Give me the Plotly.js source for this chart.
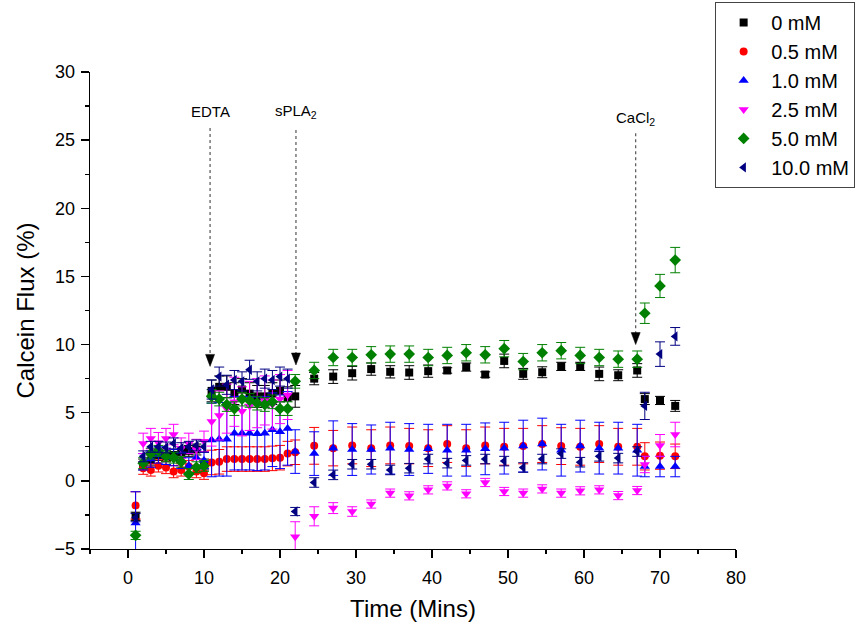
<!DOCTYPE html>
<html>
<head>
<meta charset="utf-8">
<script src="https://cdn.plot.ly/plotly-3.0.1.min.js"></script>
<style>html,body{margin:0;padding:0;background:#fff;}#chart{width:856px;height:630px;}</style>
</head>
<body>
<div id="chart"></div>
<script>
// Time points (minutes)
const time = [1,2,3,4,5,6,7,8,9,10,11,12,13,14,15,16,17,18,19,20,21,22,24.5,27,29.5,32,34.5,37,39.5,42,44.5,47,49.5,52,54.5,57,59.5,62,64.5,67,68,70,72];

const seriesNames = ["0 mM","0.5 mM","1.0 mM","2.5 mM","5.0 mM","10.0 mM"];

// Calcein flux (%) per concentration
const flux0 = [-2.6, 1.2,1.5,1.9,1.8,1.9,2.1,2.2,2.3,1.2,
  6.6,6.9,6.9,6.4,6.7,6.4,6.2,6.2,6.4,6.6,6.1,6.2,
  7.5,7.65,7.9,8.2,8.0,7.95,8.05,8.1,8.35,7.8,8.8,7.85,7.97,8.4,8.4,7.85,7.75,8.1,
  6.0,5.9,5.5];
const err0 = [0.3, 0.4,0.4,0.4,0.4,0.4,0.4,0.4,0.4,0.4,
  0.8,0.8,0.8,0.8,0.8,0.8,0.8,0.8,0.8,0.8,0.8,0.8,
  0.45,0.5,0.5,0.45,0.45,0.5,0.45,0.2,0.3,0.2,0.5,0.4,0.4,0.3,0.3,0.5,0.4,0.5,
  0.4,0.3,0.4];

const flux05 = [-1.8, 0.93,0.8,1.1,0.98,0.68,0.8,1.05,0.68,0.56,
  1.35,1.4,1.6,1.6,1.6,1.6,1.6,1.6,1.65,1.7,2.0,2.1,
  2.57,2.4,2.6,2.4,2.6,2.55,2.4,2.7,2.4,2.6,2.5,2.55,2.7,2.55,2.5,2.7,2.5,2.5,
  1.8,1.85,1.8];
const err05 = [1.0, 0.45,0.45,0.45,0.45,0.45,0.45,0.45,0.45,0.45,
  0.9,0.9,0.9,0.9,0.9,0.9,0.9,0.9,0.9,0.9,0.9,0.9,
  1.35,1.3,1.35,1.35,1.35,1.3,1.35,1.35,1.35,1.35,1.35,1.3,1.35,1.35,1.35,1.35,1.35,1.35,
  1.0,1.0,0.9];

const flux10 = [-3.1, 1.4,1.6,1.9,1.8,1.7,1.5,1.1,1.7,1.5,
  3.0,3.05,3.05,3.5,3.5,3.5,3.45,3.5,3.75,3.6,3.85,2.15,
  2.0,2.4,2.3,2.3,2.4,2.3,2.35,2.25,2.25,2.35,2.4,2.55,2.7,2.25,2.55,2.4,2.4,2.25,
  1.05,1.05,1.05];
const err10 = [2.3, 0.6,0.6,0.6,0.6,0.6,0.6,0.6,0.6,0.6,
  2.7,2.7,2.7,2.7,2.7,2.7,2.7,2.7,2.7,2.7,2.7,1.6,
  1.6,2.0,1.9,1.8,1.9,1.9,1.8,1.9,1.9,1.9,1.9,1.9,1.9,1.9,1.9,1.9,1.9,1.9,
  0.75,0.75,0.75];

const flux25 = [null, 2.75,3.1,2.8,3.1,3.4,2.4,2.75,2.3,2.9,
  4.35,4.8,5.3,5.8,5.1,5.5,5.7,5.9,5.6,6.0,6.3,-4.1,
  -2.6,-2.0,-2.25,-1.7,-0.9,-1.1,-0.66,-0.37,-0.95,-0.12,-0.78,-0.9,-0.59,-0.9,-0.73,-0.66,-1.08,-0.71,
  1.2,2.6,3.4];
const err25 = [0, 0.75,0.75,0.75,0.75,0.75,0.75,0.75,0.75,0.75,
  1.8,1.8,1.8,1.8,1.8,1.8,1.8,1.8,1.8,1.8,1.8,1.1,
  0.7,0.4,0.35,0.3,0.3,0.3,0.3,0.3,0.3,0.3,0.3,0.3,0.3,0.3,0.3,0.3,0.3,0.3,
  0.6,0.8,0.9];

const flux50 = [-4.0, 1.3,2.0,2.2,1.8,1.7,1.4,0.5,1.0,1.1,
  6.2,6.0,5.6,5.3,6.0,5.9,5.7,5.6,5.8,5.3,5.3,7.3,
  8.1,9.05,9.05,9.25,9.3,9.3,9.05,9.2,9.4,9.25,9.7,8.75,9.4,9.55,9.2,9.05,8.93,8.93,
  12.3,14.3,16.2];
const err50 = [0.3, 0.4,0.4,0.4,0.4,0.4,0.4,0.4,0.4,0.4,
  0.5,0.5,0.5,0.5,0.5,0.5,0.5,0.5,0.5,0.5,0.5,0.5,
  0.6,0.6,0.6,0.6,0.6,0.6,0.6,0.6,0.6,0.6,0.6,0.6,0.6,0.6,0.6,0.6,0.6,0.6,
  0.75,0.85,0.93];

const flux100 = [-2.7, 1.8,2.5,2.5,2.45,2.75,2.4,2.5,2.6,2.5,
  6.7,7.65,7.05,7.4,7.3,8.15,7.3,7.5,7.4,7.65,7.5,-2.25,
  -0.12,0.44,1.22,1.22,0.8,0.93,1.6,1.3,1.5,1.6,1.45,0.98,1.6,2.0,1.37,1.8,1.67,2.15,
  5.5,9.3,10.6];
const err100 = [0.3, 0.4,0.4,0.4,0.4,0.4,0.4,0.4,0.4,0.4,
  0.7,0.7,0.7,0.7,0.7,0.7,0.7,0.7,0.7,0.7,0.7,0.3,
  0.35,0.35,0.35,0.35,0.35,0.35,0.35,0.35,0.35,0.35,0.35,0.35,0.35,0.35,0.35,0.35,0.35,0.35,
  1.0,0.9,0.65];

const fluxes = [flux0, flux05, flux10, flux25, flux50, flux100];
const errors = [err0, err05, err10, err25, err50, err100];
const colors = ["#000000","#ff0000","#0000ff","#ff00ff","#008000","#000080"];
const symbols = ["square","circle","triangle-up","triangle-down","diamond","triangle-left"];
const sizes = [8,8,9,9,9,9];

// Event markers
const eventLabels = ["EDTA","sPLA<sub>2</sub>","CaCl<sub>2</sub>"];
const eventTimes = [10.8, 22.1, 66.8];
const eventTips = [8.4, 8.5, 10.0];
const eventTops = [25.9, 25.75, 25.5];
const eventTextY = [27.1, 27.1, 26.6];

const font = "Liberation Sans, Arial, Helvetica, sans-serif";

const traces = seriesNames.map((name, i) => ({
  type: "scatter",
  mode: "markers",
  name: name,
  x: time,
  y: fluxes[i],
  marker: {symbol: symbols[i], size: sizes[i], color: colors[i]},
  error_y: {type: "data", array: errors[i], visible: true, color: colors[i], thickness: 1, width: 5},
  cliponaxis: true
}));

const shapes = [];
eventTimes.forEach((t, i) => {
  shapes.push({
    type: "line", xref: "x", yref: "y",
    x0: t, x1: t, y0: eventTops[i], y1: eventTips[i] + 0.7,
    line: {color: "#555", width: 1.2, dash: "dot"}
  });
  shapes.push({
    type: "path", xref: "x", yref: "y",
    xsizemode: "pixel", ysizemode: "pixel",
    xanchor: t, yanchor: eventTips[i],
    path: "M -4.5 12 L 4.5 12 L 0 0 Z",
    fillcolor: "#000", line: {color: "#000", width: 0.5}
  });
});

const annotations = eventTimes.map((t, i) => ({
  x: t, y: eventTextY[i], xref: "x", yref: "y",
  text: eventLabels[i], showarrow: false,
  font: {family: font, size: 15, color: "#000"}
}));

const layout = {
  width: 856, height: 630,
  margin: {l: 90, r: 120, t: 72, b: 81, autoexpand: false},
  paper_bgcolor: "#fff", plot_bgcolor: "#fff",
  font: {family: font, size: 18, color: "#000"},
  showlegend: true,
  legend: {
    xref: "container", yref: "container",
    x: 0.999, xanchor: "right", y: 0.997, yanchor: "top",
    bordercolor: "#444", borderwidth: 1, bgcolor: "#fff",
    font: {family: font, size: 20, color: "#000"},
    itemwidth: 45, tracegroupgap: 0
  },
  xaxis: {
    range: [-5, 80], tick0: 0, dtick: 10,
    showline: true, linecolor: "#000", linewidth: 1.3,
    ticks: "outside", ticklen: 8, tickwidth: 1.3, tickcolor: "#000",
    minor: {dtick: 5, tick0: 0, ticks: "outside", ticklen: 4, tickwidth: 1.3, tickcolor: "#000"},
    showgrid: false, zeroline: false, ticklabelstandoff: 4,
    tickfont: {family: font, size: 18, color: "#000"},
    title: {text: "Time (Mins)", font: {family: font, size: 24, color: "#000"}, standoff: 13}
  },
  yaxis: {
    range: [-5, 30], tick0: 0, dtick: 5,
    showline: true, linecolor: "#000", linewidth: 1.3,
    ticks: "outside", ticklen: 8, tickwidth: 1.3, tickcolor: "#000",
    minor: {dtick: 2.5, tick0: 0, ticks: "outside", ticklen: 4, tickwidth: 1.3, tickcolor: "#000"},
    showgrid: false, zeroline: false, ticklabelstandoff: 2,
    tickfont: {family: font, size: 18, color: "#000"},
    title: {text: "Calcein Flux (%)", font: {family: font, size: 24, color: "#000"}, standoff: 13}
  },
  shapes: shapes,
  annotations: annotations
};

Plotly.newPlot("chart", traces, layout, {displayModeBar: false, staticPlot: true});
</script>
</body>
</html>
